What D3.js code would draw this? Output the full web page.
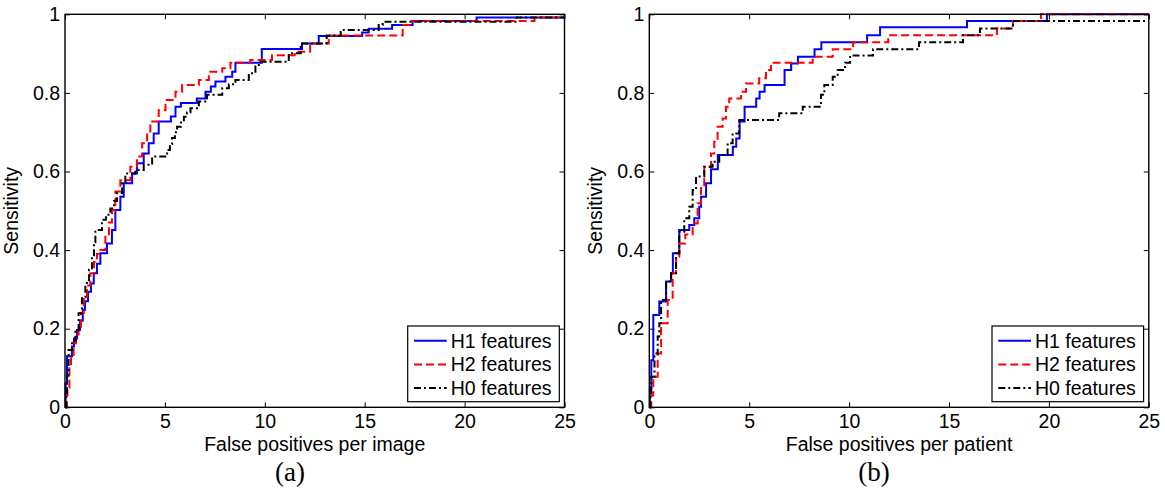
<!DOCTYPE html>
<html>
<head>
<meta charset="utf-8">
<script src="https://cdn.jsdelivr.net/npm/d3@7"></script>
<style>
  body { margin: 0; background: #fff; }
</style>
</head>
<body>
<div id="chart"></div>
<script>
var width = 1165
var height = 499

var xTicks = [0, 5, 10, 15, 20, 25]
var yTicks = [0, 0.2, 0.4, 0.6, 0.8, 1]
var seriesNames = ["H1 features", "H2 features", "H0 features"]

// (a) false positives per image  -- [fp, sensitivity], step after each point
var imgH1 = [[0,0],[0.03,0.06],[0.1,0.13],[0.35,0.155],[0.45,0.175],[0.6,0.197],[0.75,0.22],[0.89,0.248],[1.0,0.27],[1.15,0.294],[1.3,0.315],[1.44,0.341],[1.6,0.365],[1.77,0.392],[2.1,0.417],[2.35,0.451],[2.52,0.502],[2.77,0.536],[2.94,0.57],[3.36,0.595],[3.6,0.621],[3.94,0.646],[4.19,0.672],[4.44,0.697],[4.69,0.727],[5.3,0.74],[5.53,0.765],[5.8,0.774],[6.6,0.786],[7.03,0.803],[7.3,0.816],[7.53,0.829],[8.03,0.841],[8.37,0.854],[8.53,0.877],[9.85,0.912],[11.86,0.926],[12.7,0.945],[14.87,0.954],[15.2,0.963],[16.37,0.973],[17.4,0.983],[20.6,0.992],[25,0.992]]
var imgH2 = [[0,0],[0.1,0.03],[0.12,0.05],[0.22,0.1],[0.3,0.13],[0.43,0.163],[0.55,0.185],[0.68,0.205],[0.8,0.24],[0.94,0.281],[1.1,0.31],[1.27,0.341],[1.45,0.37],[1.6,0.39],[1.77,0.4],[2.02,0.434],[2.2,0.47],[2.35,0.502],[2.52,0.549],[2.77,0.578],[3.27,0.612],[3.6,0.638],[3.86,0.672],[4.11,0.697],[4.27,0.727],[4.69,0.756],[5.03,0.782],[5.53,0.803],[5.86,0.82],[6.7,0.833],[7.2,0.854],[7.87,0.863],[8.28,0.877],[9.27,0.884],[10.36,0.896],[11.5,0.905],[12.27,0.926],[13.2,0.946],[16.9,0.973],[17.3,0.983],[23.5,0.992],[25,0.992]]
var imgH0 = [[0,0],[0.05,0.03],[0.1,0.08],[0.18,0.146],[0.35,0.17],[0.52,0.197],[0.68,0.239],[0.85,0.28],[1.02,0.316],[1.2,0.35],[1.35,0.383],[1.45,0.42],[1.52,0.451],[1.85,0.477],[2.05,0.49],[2.27,0.506],[2.45,0.525],[2.6,0.545],[2.86,0.57],[3.02,0.595],[3.52,0.604],[3.94,0.617],[4.36,0.638],[5.11,0.655],[5.25,0.67],[5.36,0.685],[5.5,0.7],[5.61,0.714],[5.8,0.725],[5.95,0.739],[6.1,0.75],[6.28,0.761],[6.7,0.778],[7.11,0.795],[7.87,0.812],[8.2,0.822],[8.53,0.833],[9.2,0.85],[9.53,0.867],[9.7,0.879],[11.2,0.901],[11.8,0.926],[13.1,0.946],[13.8,0.96],[15.7,0.973],[15.9,0.981],[22.6,0.992],[25,0.992]]

// (b) false positives per patient
var patH1 = [[0,0],[0.03,0.05],[0.1,0.12],[0.2,0.235],[0.5,0.269],[0.84,0.32],[1.09,0.341],[1.18,0.392],[1.5,0.451],[2.0,0.464],[2.25,0.481],[2.5,0.51],[2.59,0.536],[2.84,0.57],[3.09,0.606],[3.43,0.642],[4.18,0.663],[4.35,0.684],[4.52,0.727],[4.77,0.765],[5.35,0.786],[5.52,0.803],[5.77,0.82],[6.77,0.858],[7.1,0.875],[7.44,0.892],[8.27,0.911],[8.61,0.929],[10.9,0.947],[11.55,0.967],[15.9,0.983],[19.9,1],[25,1]]
var patH2 = [[0,0],[0.1,0.03],[0.2,0.078],[0.42,0.137],[0.59,0.214],[0.92,0.273],[1.17,0.341],[1.34,0.383],[1.5,0.417],[1.8,0.44],[2.17,0.468],[2.42,0.519],[2.59,0.561],[2.75,0.612],[3.09,0.646],[3.25,0.676],[3.42,0.714],[3.67,0.735],[3.84,0.765],[4.0,0.786],[4.59,0.803],[4.84,0.824],[5.5,0.837],[5.84,0.858],[6.09,0.877],[8.18,0.892],[9.18,0.911],[10.2,0.929],[11.96,0.947],[17.4,0.964],[18.2,0.983],[19.6,1],[25,1]]
var patH0 = [[0,0],[0.05,0.03],[0.1,0.078],[0.26,0.137],[0.42,0.18],[0.5,0.214],[0.59,0.273],[0.84,0.32],[1.09,0.341],[1.34,0.392],[1.5,0.447],[1.75,0.481],[2.0,0.51],[2.17,0.553],[2.34,0.587],[2.75,0.612],[3.17,0.625],[3.5,0.642],[3.92,0.672],[4.17,0.697],[4.5,0.731],[6.5,0.748],[7.68,0.765],[8.59,0.795],[8.76,0.82],[9.18,0.841],[9.43,0.858],[9.8,0.877],[10.05,0.895],[11.2,0.911],[13.5,0.929],[15.7,0.947],[16.55,0.964],[18.2,0.983],[25,0.983]]

var styles = [
  { color: "#0000ff", dash: null },
  { color: "#ff0000", dash: "8,4" },
  { color: "#000000", dash: "7,3,2,3" }
]

var sans = "Liberation Sans, Arial, sans-serif"
var serif = "Liberation Serif, Times New Roman, serif"

var svg = d3.select("#chart").append("svg")
  .attr("width", width)
  .attr("height", height)

function drawPanel(left, curves, xlabel, caption, captionX) {
  var top = 14.3, bottom = 407.3, w = 499.5
  var x = d3.scaleLinear().domain([0, 25]).range([left, left + w])
  var y = d3.scaleLinear().domain([0, 1]).range([bottom, top])
  var g = svg.append("g")

  var line = d3.line()
    .x(function(d) { return x(d[0]) })
    .y(function(d) { return y(d[1]) })
    .curve(d3.curveStepAfter)

  curves.forEach(function(c, i) {
    g.append("path")
      .attr("d", line(c))
      .attr("fill", "none")
      .attr("stroke", styles[i].color)
      .attr("stroke-width", 2)
      .attr("stroke-dasharray", styles[i].dash)
  })

  var fmt = d3.format("")
  g.append("g").attr("transform", "translate(0," + bottom + ")")
    .call(d3.axisBottom(x).tickValues(xTicks).tickSize(-5).tickSizeOuter(0).tickPadding(7).tickFormat(fmt))
  g.append("g").attr("transform", "translate(" + left + ",0)")
    .call(d3.axisLeft(y).tickValues(yTicks).tickSize(-5).tickSizeOuter(0).tickPadding(5).tickFormat(fmt))
  g.append("g").attr("transform", "translate(0," + top + ")")
    .call(d3.axisTop(x).tickValues(xTicks).tickSize(-5).tickSizeOuter(0).tickFormat(""))
  g.append("g").attr("transform", "translate(" + (left + w) + ",0)")
    .call(d3.axisRight(y).tickValues(yTicks).tickSize(-5).tickSizeOuter(0).tickFormat(""))

  g.selectAll(".domain").attr("stroke", "none")
  g.selectAll(".tick line").attr("stroke", "#000").attr("stroke-width", 1)
  g.selectAll(".tick text").attr("font-size", "19.5px").attr("fill", "#000")
    .attr("font-family", sans)

  g.append("rect")
    .attr("x", left).attr("y", top)
    .attr("width", w).attr("height", bottom - top)
    .attr("fill", "none").attr("stroke", "#000").attr("stroke-width", 1.4)

  g.append("text")
    .attr("x", left + w / 2).attr("y", 451)
    .attr("text-anchor", "middle").attr("font-size", "19.5px")
    .attr("font-family", sans)
    .text(xlabel)

  g.append("text")
    .attr("transform", "translate(" + (left - 47) + "," + ((top + bottom) / 2) + ") rotate(-90)")
    .attr("text-anchor", "middle").attr("font-size", "19.5px")
    .attr("font-family", sans)
    .text("Sensitivity")

  g.append("text")
    .attr("x", captionX).attr("y", 481)
    .attr("text-anchor", "middle")
    .attr("font-family", serif)
    .attr("font-size", "27px")
    .text(caption)

  // legend
  var lx = left + 342.7, ly = 326
  var leg = g.append("g")
  leg.append("rect")
    .attr("x", lx).attr("y", ly).attr("width", 151.6).attr("height", 75.7)
    .attr("fill", "#fff").attr("stroke", "#000").attr("stroke-width", 1.2)
  seriesNames.forEach(function(name, i) {
    var cy = ly + 14.7 + i * 23.7
    leg.append("line")
      .attr("x1", lx + 6.3).attr("x2", lx + 39)
      .attr("y1", cy).attr("y2", cy)
      .attr("stroke", styles[i].color).attr("stroke-width", 2)
      .attr("stroke-dasharray", styles[i].dash)
    leg.append("text")
      .attr("x", lx + 43).attr("y", cy + 6.8)
      .attr("font-size", "19.5px")
      .attr("font-family", sans)
      .text(name)
  })
}

drawPanel(65, [imgH1, imgH2, imgH0], "False positives per image", "(a)", 290)
drawPanel(649.3, [patH1, patH2, patH0], "False positives per patient", "(b)", 874)
</script>
</body>
</html>
